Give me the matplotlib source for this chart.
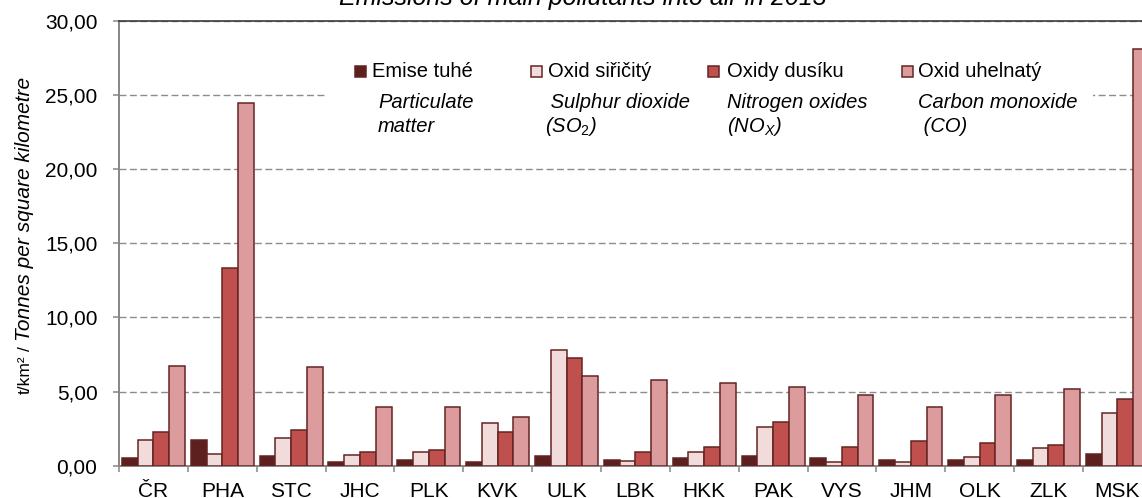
import numpy as np
import matplotlib
matplotlib.use("Agg")
from matplotlib import pyplot as plt
from matplotlib.patches import Rectangle
from matplotlib.ticker import FuncFormatter

plt.rcParams['font.family'] = ['Liberation Sans', 'DejaVu Sans']
plt.rcParams['mathtext.fontset'] = 'custom'
plt.rcParams['mathtext.rm'] = 'Liberation Sans'
plt.rcParams['mathtext.it'] = 'Liberation Sans:italic'

# emissions in t/km2 per region
regions = ["ČR", "PHA", "STC", "JHC", "PLK", "KVK", "ULK", "LBK",
           "HKK", "PAK", "VYS", "JHM", "OLK", "ZLK", "MSK"]
particulate = [0.52, 1.72, 0.64, 0.25, 0.39, 0.25, 0.64, 0.39,
               0.53, 0.64, 0.53, 0.39, 0.39, 0.39, 0.82]
sulphur = [1.70, 0.78, 1.85, 0.73, 0.92, 2.91, 7.77, 0.34,
           0.92, 2.64, 0.25, 0.23, 0.62, 1.17, 3.57]
nitrogen = [2.27, 13.34, 2.40, 0.89, 1.05, 2.25, 7.28, 0.92,
            1.28, 2.94, 1.28, 1.67, 1.56, 1.42, 4.50]
carbon = [6.72, 24.44, 6.63, 3.97, 3.97, 3.30, 6.07, 5.80,
          5.55, 5.30, 4.77, 3.97, 4.77, 5.16, 28.1]

series_cz = ["Emise tuhé", "Oxid siřičitý", "Oxidy dusíku", "Oxid uhelnatý"]
series_en = [("Particulate", "matter"), (" Sulphur dioxide", "(SO$_2$)"),
             ("Nitrogen oxides", "(NO$_X$)"), ("Carbon monoxide", " (CO)")]
colors = ['#5E1F1F', '#F2DCDB', '#C0504D', '#DC9B9C']
edge = '#632523'

W, H = 1142, 498
fig = plt.figure(figsize=(W / 100, H / 100), dpi=100)

def fx(x):
    return x / W

def fy(y):
    return 1 - y / H

cat_w = 68.85
ax = fig.add_axes([fx(119), fy(465.7), len(regions) * cat_w / W, (465.7 - 20.7) / H])

x = np.arange(len(regions))
w = 0.229
for k, vals in enumerate([particulate, sulphur, nitrogen, carbon]):
    ax.bar(x + (k - 1.5) * w, vals, w, color=colors[k], edgecolor=edge,
           linewidth=1.1, zorder=3)

ax.set_xlim(-0.5, len(regions) - 0.5)
ax.set_ylim(0, 30)
ax.set_yticks(np.arange(0, 31, 5))
ax.yaxis.set_major_formatter(FuncFormatter(lambda v, p: f"{v:.2f}".replace('.', ',')))
ax.yaxis.grid(True, linestyle=(0, (5, 2.5)), color='#8c8c8c', linewidth=1)
ax.set_axisbelow(True)

ax.set_xticks(np.arange(-0.5, len(regions), 1))
ax.set_xticklabels([])
ax.set_xticks(x, minor=True)
ax.set_xticklabels(regions, minor=True)
ax.tick_params(axis='x', which='major', length=4.5, width=1.1, color='#868686')
ax.tick_params(axis='x', which='minor', length=0, pad=22.5, labelsize=15)
for lab in ax.get_xticklabels(minor=True):
    lab.set_verticalalignment('baseline')
ax.tick_params(axis='y', length=4.5, width=1.1, color='#868686', pad=11, labelsize=15)

for s in ['left', 'bottom']:
    ax.spines[s].set_color('#868686')
    ax.spines[s].set_linewidth(1.4)
ax.spines['right'].set_visible(False)
ax.spines['top'].set_color('#3a3a3a')
ax.spines['top'].set_linewidth(1.2)

# white legend background hides the gridline behind it
ax.add_patch(Rectangle((fx(325), fy(150)), (1093 - 325) / W, (150 - 35) / H,
                       transform=fig.transFigure, facecolor='white',
                       edgecolor='none', zorder=1.5))

marker_x = [355, 531, 708, 902]
text_x = [372, 548, 727, 918]
en_x = [378, 545, 727, 918]
for k in range(4):
    fig.add_artist(Rectangle((fx(marker_x[k]), fy(77)), 11 / W, 11 / H,
                             transform=fig.transFigure, facecolor=colors[k],
                             edgecolor=edge, linewidth=1.1, zorder=3))
    fig.text(fx(text_x[k]), fy(77), series_cz[k], va='baseline', fontsize=14.5)
    fig.text(fx(en_x[k]), fy(108), series_en[k][0], va='baseline',
             fontsize=14.5, style='italic')
    fig.text(fx(en_x[k]), fy(131.7), series_en[k][1], va='baseline',
             fontsize=14.5, style='italic')

fig.text(fx(583), fy(5), "Emissions of main pollutants into air in 2013",
         ha='center', va='baseline', fontsize=18, style='italic')

fig.text(fx(25), fy(394), "t/km²", rotation=90, ha='center', va='bottom',
         fontsize=12.5)
fig.text(fx(25), fy(349), "/", rotation=90, ha='center', va='center',
         fontsize=12.5)
fig.text(fx(25), fy(341), "Tonnes per square kilometre", rotation=90,
         ha='center', va='bottom', fontsize=15, style='italic')

fig.savefig("out.png", dpi=100)
